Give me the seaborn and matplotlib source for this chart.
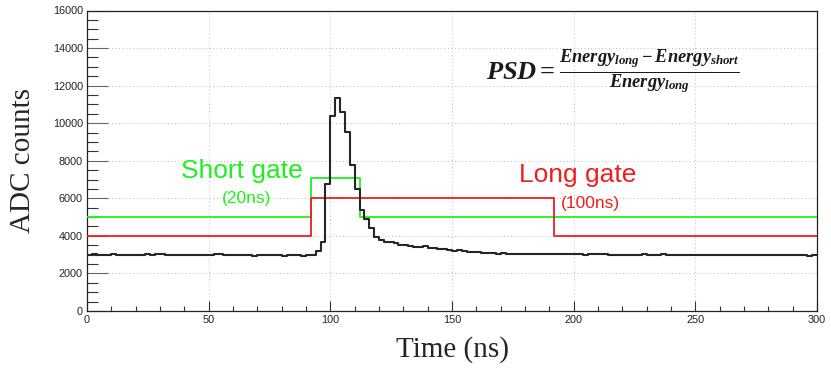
import numpy as np
import pandas as pd
import matplotlib
matplotlib.use("Agg")
import matplotlib.pyplot as plt
import seaborn as sns
from matplotlib.ticker import MultipleLocator

# ---------------- data ----------------
bin_width = 2  # ns
adc_counts = [
    2980, 3010, 2970, 2980, 2960, 3020, 2990, 2970, 2980, 3000,
    2970, 2960, 3010, 3000, 3010, 3020, 2990, 2970, 2960, 2980,
    2990, 2970, 2960, 2980, 2990, 3000, 3020, 3010, 2970, 2960,
    2980, 2990, 2970, 2960, 2950, 2970, 2990, 3000, 2980, 2960,
    2950, 2960, 2980, 2960, 2950, 2960, 2980, 3200, 3650, 6750,
    10400, 11320, 10620, 9550, 7780, 6520, 5400, 4900, 4400, 3950,
    3780, 3700, 3650, 3600, 3520, 3510, 3480, 3430, 3420, 3440,
    3340, 3330, 3300, 3280, 3240, 3220, 3240, 3170, 3150, 3140,
    3120, 3100, 3110, 3090, 3060, 3080, 3060, 3050, 3060, 3040,
    3060, 3040, 3030, 3050, 3040, 3020, 3050, 3030, 3020, 3040,
    3030, 3010, 3000, 3040, 3050, 3020, 3010, 3000, 2980, 2990,
    2990, 3000, 2980, 3000, 3010, 2990, 2980, 3000, 3020, 3000,
    2980, 2990, 3000, 2980, 2970, 2980, 2990, 3000, 2980, 2970,
    2960, 2980, 2990, 2980, 2970, 2960, 2980, 2970, 2990, 2980,
    2970, 2960, 2980, 2970, 2960, 2980, 2970, 2960, 2950, 2960,
]
bin_start = np.arange(len(adc_counts)) * bin_width

short_gate_t = [0, 92, 112, 300]
short_gate_v = [5000, 7100, 5000, 5000]
long_gate_t = [0, 92, 192, 300]
long_gate_v = [4000, 6000, 4000, 4000]

x_ticks = [0, 50, 100, 150, 200, 250, 300]
y_ticks = [0, 2000, 4000, 6000, 8000, 10000, 12000, 14000, 16000]

# ---------------- style ----------------
sns.set_style("white")
plt.rcParams["font.family"] = ["Liberation Sans", "DejaVu Sans"]
plt.rcParams["mathtext.fontset"] = "custom"
plt.rcParams["mathtext.it"] = "Liberation Serif:italic:bold"
plt.rcParams["mathtext.rm"] = "Liberation Serif:bold"
plt.rcParams["mathtext.bf"] = "Liberation Serif:bold"

fig = plt.figure(figsize=(8.31, 3.73), dpi=100)
ax = fig.add_axes([87 / 831, 1 - 311 / 373, 730 / 831, 300.5 / 373])

hist_df = pd.DataFrame({
    "t": np.append(bin_start, bin_start[-1] + bin_width),
    "v": adc_counts + [adc_counts[-1]],
})
short_df = pd.DataFrame({"t": short_gate_t, "v": short_gate_v})
long_df = pd.DataFrame({"t": long_gate_t, "v": long_gate_v})

sns.lineplot(data=short_df, x="t", y="v", drawstyle="steps-post",
             color="#1ef01e", lw=1.3, ax=ax, zorder=3)
sns.lineplot(data=long_df, x="t", y="v", drawstyle="steps-post",
             color="#f01e1e", lw=1.3, ax=ax, zorder=3)
sns.lineplot(data=hist_df, x="t", y="v", drawstyle="steps-post",
             color="#262626", lw=1.5, ax=ax, zorder=4)

ax.set_xlim(0, 300)
ax.set_ylim(0, 16000)
ax.set_xticks(x_ticks)
ax.set_yticks(y_ticks)
ax.xaxis.set_minor_locator(MultipleLocator(10))
ax.yaxis.set_minor_locator(MultipleLocator(500))
ax.tick_params(bottom=True, left=True, top=False, right=False, which="both")
ax.tick_params(axis="y", which="major", direction="in", length=15, width=0.8,
               labelsize=7.8, pad=3, color="#666666", labelcolor="#222222")
ax.tick_params(axis="y", which="minor", direction="in", length=8, width=0.8,
               color="#333333")
ax.tick_params(axis="x", which="major", direction="in", length=7, width=0.8,
               labelsize=7.8, pad=3, color="#333333", labelcolor="#222222")
ax.tick_params(axis="x", which="minor", direction="in", length=3.5, width=0.8,
               color="#333333")
for s in ax.spines.values():
    s.set_color("#222222")
    s.set_linewidth(0.9)
ax.grid(True, which="major", color="#b5b5b5", linestyle=(0, (1.2, 3)),
        linewidth=0.6)
ax.set_axisbelow(True)

ax.set_xlabel("Time (ns)", family="Liberation Serif", fontsize=21, labelpad=8)
ax.set_ylabel("ADC counts", family="Liberation Serif", fontsize=21, labelpad=12)

# annotations
ax.text(63.5, 7450, "Short gate", color="#1ef01e", fontsize=19,
        ha="center", va="center")
ax.text(65.5, 5980, "(20ns)", color="#1ef01e", fontsize=12.5,
        ha="center", va="center")
ax.text(201.8, 7250, "Long gate", color="#f01e1e", fontsize=19,
        ha="center", va="center")
ax.text(206.8, 5700, "(100ns)", color="#f01e1e", fontsize=12.5,
        ha="center", va="center")
ax.text(216, 12700,
        r"$PSD = \frac{Energy_{long} - Energy_{short}}{Energy_{long}}$",
        fontsize=19, ha="center", va="center", color="#1a1a1a")

fig.savefig("out.png", dpi=100)
